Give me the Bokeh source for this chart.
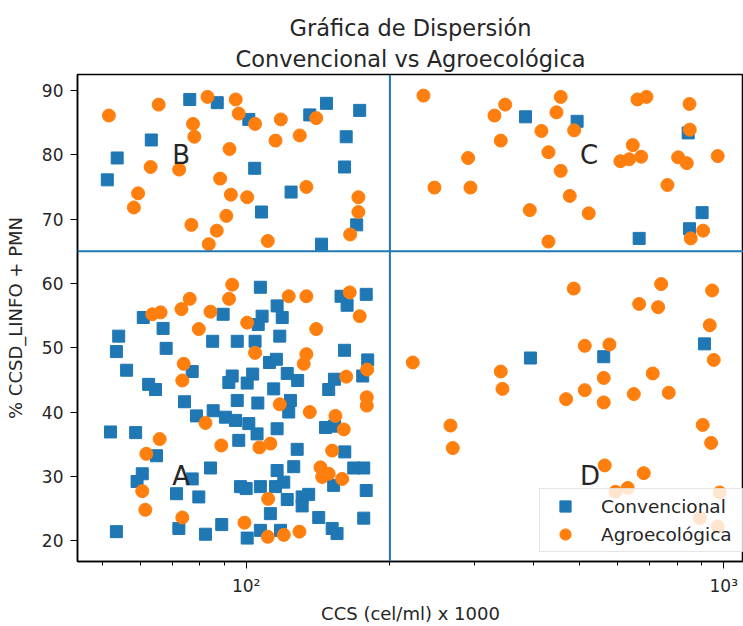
from bokeh.plotting import figure
from bokeh.models import Range1d, FixedTicker, Span, Legend, LegendItem, Label, Title
from bokeh.embed import file_html
from bokeh.resources import INLINE

# --- data ---
conv_x = [76.2, 87.0, 101.3, 135.9, 147.3, 172.9, 63.3, 53.7, 51.2, 104.2, 162.0, 160.7, 124.2, 107.7, 170.4, 143.8,
          384.5, 493.2, 842.4, 901.0, 847.7, 665.1,
          107.1, 60.9, 67.0, 54.1, 53.5, 68.0, 56.2, 89.5, 85.1, 95.8, 104.4, 108.0, 106.0, 116.1, 119.0, 117.6,
          158.0, 162.7, 178.4, 160.7, 179.7, 175.4, 111.9, 115.7, 77.1, 93.5, 92.0, 103.2, 100.5, 121.9, 128.2,
          62.5, 64.6, 114.2, 153.1, 148.9, 74.3, 95.8, 105.8, 123.8, 122.8, 78.7, 85.3, 90.5, 95.0,
          52.0, 58.7, 64.9, 60.6, 59.1, 77.1, 84.2, 71.5, 79.6, 53.5, 72.3, 82.2, 88.9, 96.5, 101.3, 105.4, 116.1,
          127.9, 116.1, 125.8, 119.9, 97.3, 100.0, 107.1, 115.2, 121.9, 131.0, 135.2, 131.0, 112.4, 141.9, 107.1,
          118.0, 100.5, 151.4, 155.0, 160.9, 168.0, 176.3, 152.5, 178.4, 176.3, 146.6, 153.1,
          393.8, 560.7, 911.2]
conv_y = [88.6, 88.1, 85.5, 86.2, 88.0, 86.9, 82.3, 79.5, 76.1, 77.9, 82.8, 78.1, 74.2, 71.1, 69.1, 66.1,
          85.9, 85.2, 83.4, 71.0, 68.5, 67.0,
          59.4, 54.7, 53.0, 51.8, 49.4, 49.9, 46.5, 55.2, 51.0, 51.0, 51.0, 54.9, 53.6, 56.5, 54.7, 51.8,
          58.0, 56.6, 58.3, 49.6, 48.1, 45.6, 47.7, 48.2, 46.3, 45.6, 44.6, 45.9, 44.5, 46.0, 44.9,
          44.3, 43.5, 43.6, 45.1, 43.5, 41.6, 41.8, 41.4, 41.8, 40.0, 39.4, 40.2, 39.2, 38.7,
          36.9, 36.8, 33.2, 30.4, 29.2, 29.6, 31.3, 27.3, 26.8, 21.4, 21.9, 21.0, 22.5, 35.6, 38.2, 36.6, 37.4,
          34.2, 30.9, 31.5, 29.1, 28.4, 28.1, 28.4, 28.4, 26.4, 26.8, 27.2, 25.4, 24.2, 23.6, 21.6,
          21.6, 20.4, 21.9, 21.1, 33.8, 31.3, 31.3, 28.6, 27.8, 23.5, 37.6, 37.8,
          48.4, 48.6, 50.6]

agro_x = [51.6, 65.6, 83.0, 95.1, 96.5, 77.4, 77.9, 104.4, 118.2, 140.2, 129.5, 115.2, 92.3, 63.1, 72.4, 88.2,
          59.4, 58.2, 92.9, 100.5, 133.7, 90.9, 76.8, 86.8, 83.5, 111.0, 171.8, 171.8, 165.1,
          235.1, 348.6, 331.1, 455.7, 446.4, 415.2, 486.2, 341.3, 291.6, 429.5, 455.7, 247.9, 294.9, 476.0,
          392.5, 521.6, 429.5, 659.7, 689.0, 847.7, 848.9, 645.0, 607.6, 633.8, 671.6, 802.7, 836.6, 971.4,
          762.3, 905.4, 853.0,
          93.5, 92.1, 76.2, 73.2, 66.2, 63.6, 84.2, 79.6, 100.5, 122.8, 133.7, 164.8, 172.9, 140.2, 104.4,
          133.7, 132.0, 74.0, 73.5, 179.2, 162.0, 178.9, 178.9, 117.6, 135.9, 153.8,
          82.2, 65.9, 61.8, 88.7, 106.6, 112.4, 151.4, 160.1, 143.1, 144.3, 148.9, 158.9, 60.6, 61.5, 73.5,
          111.2, 99.2, 111.0, 119.9, 129.3,
          485.2, 739.5, 945.6, 665.1, 728.9, 934.8, 511.7, 576.3, 223.3, 953.0, 341.3, 344.1, 560.7, 710.2,
          511.7, 467.7, 560.7, 648.1, 767.1, 267.8, 903.6, 270.8, 941.0, 563.4, 680.0, 629.5, 593.3, 980.8,
          890.7, 971.4]
agro_y = [86.1, 87.8, 89.0, 88.6, 86.4, 84.8, 82.8, 84.8, 85.5, 85.7, 83.0, 82.2, 80.9, 78.1, 77.7, 76.3,
          74.0, 71.8, 73.8, 73.4, 75.0, 70.5, 69.1, 68.2, 66.1, 66.6, 73.4, 71.1, 67.6,
          89.2, 87.8, 86.1, 89.0, 86.6, 83.7, 83.8, 82.2, 79.5, 80.4, 77.5, 74.9, 74.9, 73.6,
          71.4, 70.9, 66.5, 88.6, 89.0, 87.9, 83.9, 81.5, 79.0, 79.3, 79.7, 79.6, 78.7, 79.8,
          75.3, 68.2, 67.0,
          59.8, 57.6, 57.6, 56.0, 55.5, 55.2, 55.6, 52.9, 53.9, 58.0, 58.0, 58.6, 54.9, 52.9, 49.2,
          49.0, 47.5, 47.5, 44.9, 46.6, 45.5, 42.3, 41.0, 41.2, 40.0, 39.4,
          38.3, 35.8, 33.5, 34.8, 34.5, 35.1, 34.0, 37.3, 31.4, 29.9, 30.4, 29.6, 27.7, 24.8, 23.6,
          26.5, 22.8, 20.6, 20.9, 21.4,
          59.2, 59.9, 58.9, 56.8, 56.3, 53.5, 50.3, 50.5, 47.7, 48.1, 46.3, 43.6, 45.3, 46.0,
          43.4, 42.0, 41.5, 42.8, 43.0, 37.9, 38.0, 34.4, 35.2, 31.7, 30.5, 28.2, 27.6, 27.5,
          23.5, 22.2]

quad_labels = ["A", "B", "C", "D"]
quad_x = [70, 70, 500, 500]
quad_y = [30, 80, 80, 30]

x_cut = 200
y_cut = 65

y_ticks = [20, 30, 40, 50, 60, 70, 80, 90]
x_ticks = [100, 1000]
x_tick_labels = {100: "10²", 1000: "10³"}
x_minor = [50, 60, 70, 80, 90, 200, 300, 400, 500, 600, 700, 800, 900]

title_line1 = "Gráfica de Dispersión"
title_line2 = "Convencional vs Agroecológica"

BLUE = "#1f77b4"
ORANGE = "#ff7f0e"
FONT = "DejaVu Sans"
TXT = "#262626"

p = figure(width=743, height=626, x_axis_type="log",
           x_range=Range1d(44.35, 1100), y_range=Range1d(16.76, 92.48),
           output_backend="svg", toolbar_location=None,
           min_border_left=77, min_border_right=0, min_border_top=74, min_border_bottom=63)

# top line (outermost)
p.title.text = title_line1
p.title.align = "center"
p.title.text_font = FONT
p.title.text_font_size = "22.5px"
p.title.text_font_style = "normal"
p.title.text_color = TXT
p.title.standoff = 0
# second line (next to the plot frame)
p.add_layout(Title(text=title_line2, align="center", text_font=FONT, text_font_size="22.5px",
                   text_font_style="normal", text_color=TXT, standoff=6), "above")

p.grid.visible = False
p.outline_line_color = "black"
p.outline_line_width = 1.5

for ax in (p.xaxis[0], p.yaxis[0]):
    ax.axis_line_color = "black"
    ax.axis_line_width = 1.5
    ax.major_tick_line_color = "black"
    ax.minor_tick_line_color = "black"
    ax.major_tick_in = 0
    ax.major_tick_out = 7
    ax.minor_tick_in = 0
    ax.minor_tick_out = 4
    ax.major_label_text_font = FONT
    ax.major_label_text_font_size = "17px"
    ax.major_label_text_color = TXT
    ax.axis_label_text_font = FONT
    ax.axis_label_text_font_size = "18px"
    ax.axis_label_text_font_style = "normal"
    ax.axis_label_text_color = TXT

p.xaxis.ticker = FixedTicker(ticks=x_ticks, minor_ticks=x_minor)
p.xaxis.major_label_overrides = x_tick_labels
p.xaxis.major_label_standoff = 7
p.xaxis.axis_label = "CCS (cel/ml) x 1000"
p.xaxis.axis_label_standoff = 4

p.yaxis.ticker = FixedTicker(ticks=y_ticks, minor_ticks=[])
p.yaxis.major_label_standoff = 7
p.yaxis.axis_label = "% CCSD_LINFO + PMN"
p.yaxis.axis_label_standoff = 13

p.add_layout(Span(location=x_cut, dimension="height", line_color=BLUE, line_width=2))
p.add_layout(Span(location=y_cut, dimension="width", line_color=BLUE, line_width=2))

r_conv = p.scatter(conv_x, conv_y, marker="square", size=12, fill_color=BLUE, line_color=BLUE)
r_agro = p.scatter(agro_x, agro_y, marker="circle", size=13, fill_color=ORANGE, line_color=ORANGE)

for t, x, y in zip(quad_labels, quad_x, quad_y):
    p.add_layout(Label(x=x, y=y, text=t, text_font=FONT, text_font_size="26px",
                       text_color=TXT, text_align="left", text_baseline="alphabetic"))

legend = Legend(items=[LegendItem(label="Convencional", renderers=[r_conv]),
                       LegendItem(label="Agroecológica", renderers=[r_agro])],
                location=(462, 9), padding=3, spacing=0, glyph_width=44, glyph_height=28,
                label_height=28, label_width=150, label_standoff=14, margin=0,
                label_text_font=FONT, label_text_font_size="18.5px", label_text_color=TXT,
                border_line_color="#cccccc", border_line_width=1,
                background_fill_color="white", background_fill_alpha=0.8)
p.add_layout(legend)

open("out.html", "w").write(file_html(p, INLINE))
